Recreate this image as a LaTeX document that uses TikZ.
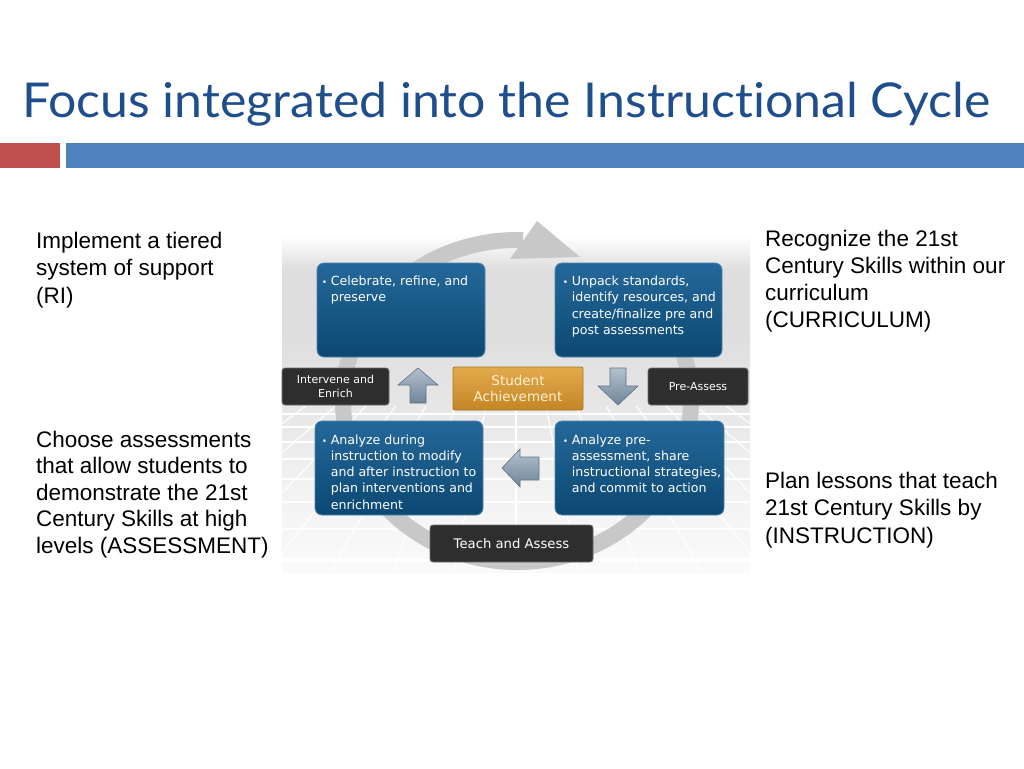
\documentclass[tikz,border=0pt]{standalone}
\usepackage{fontspec}
\setmainfont{Liberation Sans}
\newfontfamily\titlefont[Ligatures={NoCommon}]{Lato}
\newfontfamily\verd{DejaVu Sans}
\definecolor{titleblue}{HTML}{1F4E8C}
\definecolor{redbar}{HTML}{C0504D}
\definecolor{bluebar}{HTML}{4F81BD}
\definecolor{bluetop}{HTML}{24689A}
\definecolor{bluebot}{HTML}{0C4872}
\definecolor{blueedge}{HTML}{4E84AE}
\definecolor{darkfill}{HTML}{2E2E2E}
\definecolor{darkedge}{HTML}{6E6E6E}
\definecolor{goldtop}{HTML}{E2AA4C}
\definecolor{goldbot}{HTML}{C48626}
\definecolor{goldedge}{HTML}{A8741E}
\definecolor{cream}{HTML}{FFF1D2}
\definecolor{arrtop}{HTML}{B3C1CE}
\definecolor{arrbot}{HTML}{6F8598}
\definecolor{arredge}{HTML}{5F7385}
\definecolor{ringgray}{HTML}{C8C8C8}
\definecolor{gA}{HTML}{F2F2F2}
\definecolor{gB}{HTML}{E6E6E6}
\definecolor{gC}{HTML}{DEDEDE}
\definecolor{gD}{HTML}{FAFAFA}
\pgfdeclareverticalshading{bgshade}{100bp}{color(0bp)=(gD); color(25bp)=(gD); color(38bp)=(gA); color(50bp)=(gB); color(61bp)=(gC); color(70bp)=(gC); color(75bp)=(white); color(100bp)=(white)}
\begin{document}
\begin{tikzpicture}[x=1pt,y=-1pt,
  bluebox/.style={draw=blueedge, line width=0.8pt, rounded corners=7pt, top color=bluetop, bottom color=bluebot, inner sep=0pt},
  darkbox/.style={draw=darkedge, line width=0.8pt, rounded corners=3pt, fill=darkfill, inner sep=0pt, text=white, align=center, font=\verd\fontsize{11}{14}\selectfont},
  goldbox/.style={draw=goldedge, line width=0.8pt, rounded corners=2pt, top color=goldtop, bottom color=goldbot, inner sep=0pt, text=cream, align=center, font=\verd\fontsize{13.5}{16}\selectfont},
  boxtext/.style={anchor=base west, inner sep=0pt, text=white},
  bodytext/.style={anchor=base west, inner sep=0pt, text=black},
  flowarrow/.style={draw=arredge, line width=0.6pt, top color=arrtop, bottom color=arrbot},
  ring/.style={draw=ringgray, line width=16pt}
]
\useasboundingbox[fill=white] (0,0) rectangle (1024,768);

% title and bars
\node[anchor=base west, inner sep=0pt, text=titleblue] (title) at (22,117)
  {\resizebox{968pt}{\height}{\titlefont\fontsize{48}{48}\selectfont Focus integrated into the Instructional Cycle}};
\fill[redbar] (0,143) rectangle (60,168);
\fill[bluebar] (66,143) rectangle (1024,168);

% picture background
\shade[shading=bgshade] (282,236) rectangle (750,572);
\begin{scope}
  \clip (282,406) rectangle (750,572);
  \foreach \yy in {414,427,442,459,479,502,529,560}
    \draw[white, line width=1.1pt] (282,\yy) -- (750,\yy);
  \foreach \k in {-7,...,7}
    \draw[white, line width=1.1pt] (516,250) -- ({516+\k*62},572);
\end{scope}

% ring arrow
\draw[ring] (517,401) ++({174*cos(-30)},{161*sin(-30)}) arc[start angle=-30, end angle=272, x radius=174, y radius=161];
\fill[ringgray] (537,221) -- (580,257) -- (510,259) -- cycle;

% blue boxes
\node[bluebox, minimum width=168pt, minimum height=94pt] (tl) at (401,310) {};
\node[bluebox, minimum width=167pt, minimum height=94pt] (tr) at (638.5,310) {};
\node[bluebox, minimum width=168pt, minimum height=94pt] (bl) at (399,468) {};
\node[bluebox, minimum width=169pt, minimum height=94pt] (br) at (639.5,468) {};

\node[boxtext] (tlt) at ([xshift=5pt,yshift=-23pt]tl.north west)
  {\parbox[t]{200pt}{\verd\fontsize{12.6}{16.3}\selectfont\hangindent=9pt\hangafter=1\makebox[9pt][l]{\fontsize{9}{9}\selectfont•}Celebrate, refine, and\\preserve}};
\node[boxtext] (trt) at ([xshift=8pt,yshift=-23pt]tr.north west)
  {\parbox[t]{200pt}{\verd\fontsize{12.6}{16.3}\selectfont\hangindent=9pt\hangafter=1\makebox[9pt][l]{\fontsize{9}{9}\selectfont•}Unpack standards,\\identify resources, and\\create/finalize pre and\\post assessments}};
\node[boxtext] (blt) at ([xshift=7pt,yshift=-24pt]bl.north west)
  {\parbox[t]{200pt}{\verd\fontsize{12.6}{16.1}\selectfont\hangindent=9pt\hangafter=1\makebox[9pt][l]{\fontsize{9}{9}\selectfont•}Analyze during\\instruction to modify\\and after instruction to\\plan interventions and\\enrichment}};
\node[boxtext] (brt) at ([xshift=8pt,yshift=-24pt]br.north west)
  {\parbox[t]{200pt}{\verd\fontsize{12.6}{16.1}\selectfont\hangindent=9pt\hangafter=1\makebox[9pt][l]{\fontsize{9}{9}\selectfont•}Analyze pre-\\assessment, share\\instructional strategies,\\and commit to action}};

% middle row
\node[darkbox, minimum width=107pt, minimum height=37pt] (ie) at (335.5,386.5) {Intervene and\\Enrich};
\node[darkbox, minimum width=100pt, minimum height=37pt] (pa) at (698,386.5) {Pre-Assess};
\node[goldbox, minimum width=130pt, minimum height=43pt] (sa) at (518,388.5) {Student\\Achievement};
\node[darkbox, minimum width=163pt, minimum height=37pt, font=\verd\fontsize{13.2}{16}\selectfont] (ta) at (511.5,543.5) {Teach and Assess};

% block arrows
\path[flowarrow] (418,368) -- (438,385) -- (426,385) -- (426,403) -- (410,403) -- (410,385) -- (398,385) -- cycle;
\path[flowarrow] (610,368) -- (626,368) -- (626,386) -- (638,386) -- (618,405) -- (598,386) -- (610,386) -- cycle;
\path[flowarrow] (502,468) -- (520,449) -- (520,457) -- (539,457) -- (539,480) -- (520,480) -- (520,487) -- cycle;

% side texts
\node[bodytext] (ri) at (36,248)
  {\parbox[t]{260pt}{\fontsize{22.5}{27.5}\selectfont Implement a tiered\\system of support\\(RI)}};
\node[bodytext] (as) at (36,447)
  {\parbox[t]{260pt}{\fontsize{22.5}{26.6}\selectfont Choose assessments\\that allow students to\\demonstrate the 21st\\Century Skills at high\\levels (ASSESSMENT)}};
\node[bodytext] (cu) at (765,246)
  {\parbox[t]{260pt}{\fontsize{22.5}{27}\selectfont Recognize the 21st\\Century Skills within our\\curriculum\\(CURRICULUM)}};
\node[bodytext] (in) at (765,488)
  {\parbox[t]{260pt}{\fontsize{22.5}{27.5}\selectfont Plan lessons that teach\\21st Century Skills by\\(INSTRUCTION)}};
\end{tikzpicture}
\end{document}
